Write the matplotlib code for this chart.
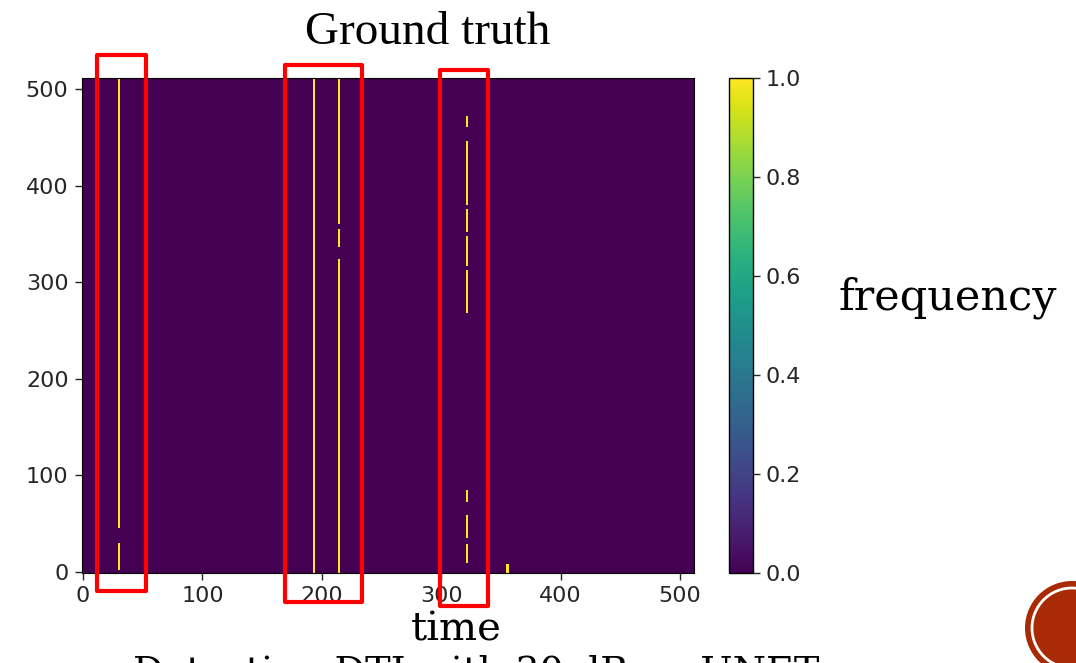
import numpy as np
import matplotlib
matplotlib.use("Agg")
import matplotlib.pyplot as plt
from matplotlib.patches import Rectangle, Ellipse

N = 512

# active segments of the ground-truth map: column (time), row range (frequency)
seg_col = [30, 30, 193, 214, 214, 214, 321, 321, 321, 321, 321, 321, 321, 321, 355]
seg_lo  = [47, 3,  0,   361, 337, 0,   461, 381, 353, 318, 269, 73,  36,  10,  0]
seg_hi  = [511, 30, 511, 511, 355, 324, 472, 446, 376, 348, 312, 85,  59,  29,  8]

xticks = [0, 100, 200, 300, 400, 500]
yticks = [0, 100, 200, 300, 400, 500]
cticks = [0.0, 0.2, 0.4, 0.6, 0.8, 1.0]

img = np.zeros((N, N))
for c, lo, hi in zip(seg_col, seg_lo, seg_hi):
    img[lo:hi + 1, c:c + 2] = 1.0

W, H = 1076, 663
fig = plt.figure(figsize=(W / 100, H / 100), dpi=100)
ax = fig.add_axes([0.0766, 0.1365, 0.5681, 0.746])
cax = fig.add_axes([0.6775, 0.1365, 0.0223, 0.746])

im = ax.imshow(img, origin="lower", cmap="viridis", vmin=0, vmax=1,
               aspect="auto", interpolation="nearest")
ax.set_xticks(xticks)
ax.set_yticks(yticks)
ax.tick_params(labelsize=16, length=5, width=1, pad=5, colors="#262626")

cb = fig.colorbar(im, cax=cax, ticks=cticks)
cb.ax.tick_params(labelsize=16, length=5, width=1, pad=4, colors="#262626")
cb.ax.set_yticklabels([f"{t:.1f}" for t in cticks])
cb.outline.set_linewidth(1)

# red highlight boxes (data coords, spill outside the axes)
boxes = [(11.7, -19.6, 52.8, 535.7), (169, -31, 233.7, 525), (299, -35, 339, 520)]
for x0, y0, x1, y1 in boxes:
    ax.add_patch(Rectangle((x0, y0), x1 - x0, y1 - y0, fill=False,
                           edgecolor="#ff0000", linewidth=3, clip_on=False,
                           joinstyle="round", zorder=5))

fig.text(428 / W, 1 - 33 / H, "Ground truth", family="Liberation Serif",
         fontsize=34, ha="center", va="center")
fig.text(948 / W, 1 - 298 / H, "frequency", family="DejaVu Serif",
         fontsize=31, ha="center", va="center")
fig.text(456 / W, 1 - 630 / H, "time", family="DejaVu Serif",
         fontsize=29, ha="center", va="center")
# caption of the slide, only its top strip is inside the screenshot
fig.text(133 / W, 1 - 683 / H, "Detecting DTI with 30 dB on UNET",
         family="DejaVu Serif", fontsize=27.5, ha="left", va="baseline")

# slide decoration, bottom right
cx, cy = 1072 / W, 1 - 628 / H
fig.patches.append(Ellipse((cx, cy), 2 * 47 / W, 2 * 47 / H,
                           transform=fig.transFigure, facecolor="#a82a06",
                           edgecolor="none"))
fig.patches.append(Ellipse((cx, cy), 2 * 40 / W, 2 * 40 / H,
                           transform=fig.transFigure, facecolor="none",
                           edgecolor="white", linewidth=2))

fig.savefig("out.png", dpi=100)
